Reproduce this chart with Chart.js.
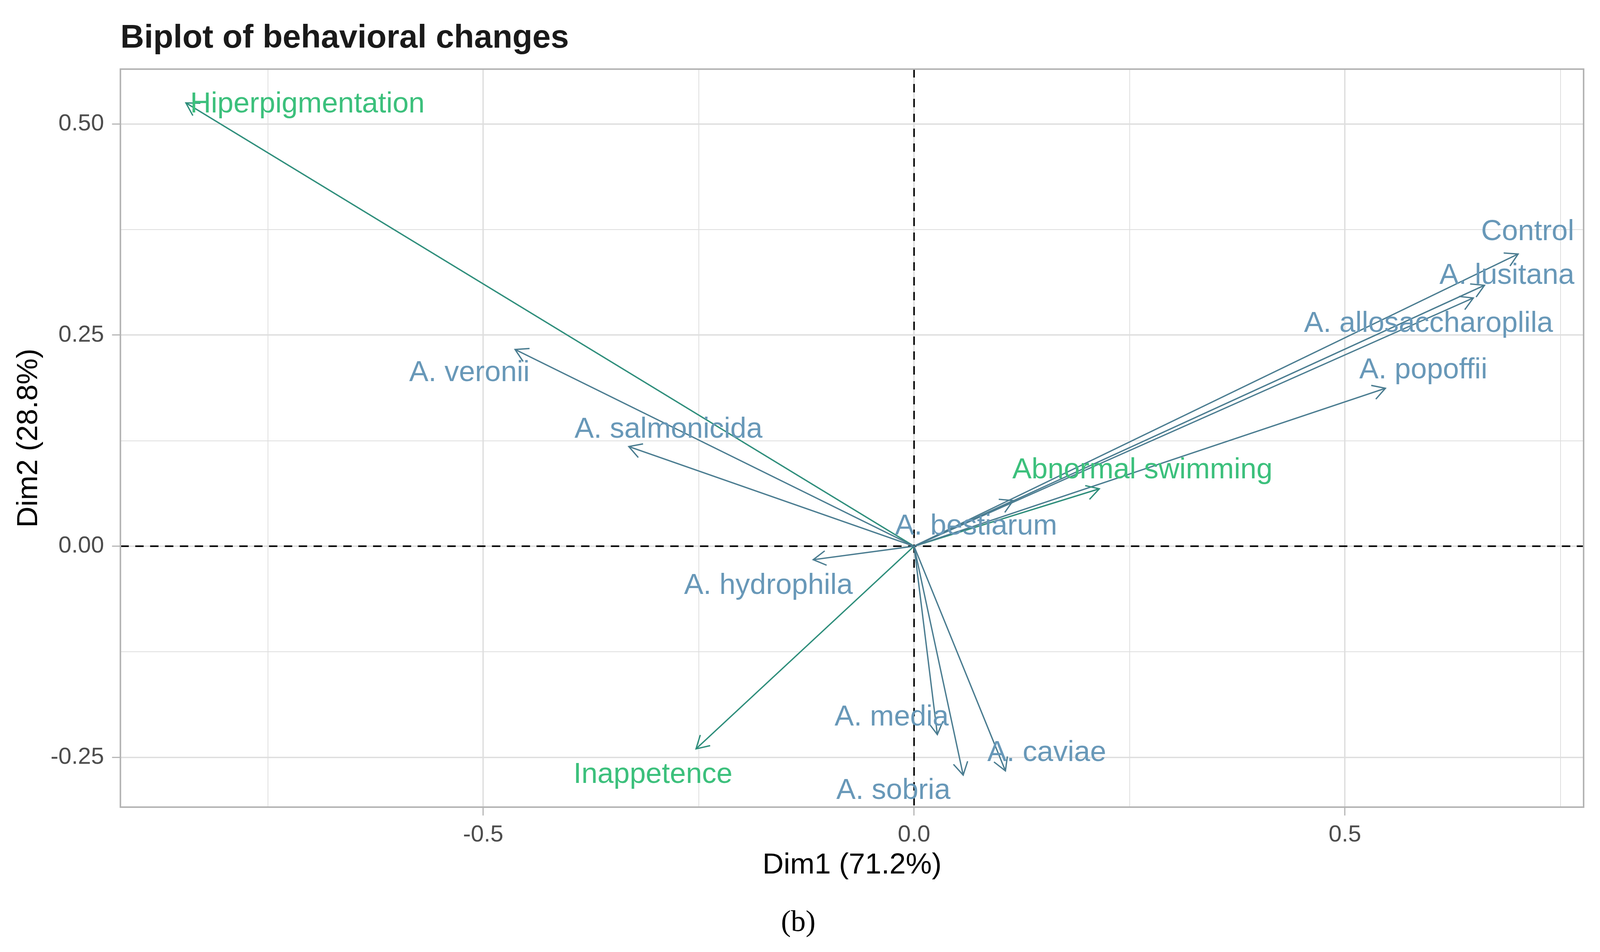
<!DOCTYPE html>
<html>
<head>
<meta charset="utf-8">
<title>Biplot of behavioral changes</title>
<script src="https://cdn.jsdelivr.net/npm/chart.js@4.4.1/dist/chart.umd.min.js"></script>
<style>
  html, body { margin: 0; padding: 0; background: #ffffff; overflow: hidden; }
  canvas { display: block; }
</style>
</head>
<body>
<canvas id="biplot"></canvas>
<script>
// individuals (arrows + labels)
const indNames = ["Control", "A. lusitana", "A. allosaccharoplila", "A. popoffii", "A. bestiarum",
  "A. veronii", "A. salmonicida", "A. hydrophila", "A. media", "A. sobria", "A. caviae"];
const indDim1 = [0.701, 0.662, 0.649, 0.547, 0.115, -0.463, -0.331, -0.117, 0.027, 0.057, 0.106];
const indDim2 = [0.346, 0.309, 0.294, 0.187, 0.054, 0.233, 0.118, -0.016, -0.223, -0.271, -0.266];
const indLabelDim1 = [0.712, 0.688, 0.597, 0.591, 0.072, -0.516, -0.285, -0.169, -0.026, -0.024, 0.154];
const indLabelDim2 = [0.372, 0.320, 0.263, 0.208, 0.023, 0.205, 0.138, -0.047, -0.203, -0.290, -0.245];

// variables
const varNames = ["Hiperpigmentation", "Abnormal swimming", "Inappetence"];
const varDim1 = [-0.845, 0.215, -0.253];
const varDim2 = [0.525, 0.068, -0.240];
const varLabelDim1 = [-0.704, 0.265, -0.303];
const varLabelDim2 = [0.523, 0.090, -0.271];

// axes
const xTicks = [-0.75, -0.5, -0.25, 0, 0.25, 0.5, 0.75];
const xTickLabels = ["", "-0.5", "", "0.0", "", "0.5", ""];
const yTicks = [-0.25, -0.125, 0, 0.125, 0.25, 0.375, 0.5];
const yTickLabels = ["-0.25", "", "0.00", "", "0.25", "", "0.50"];

const IND_LINE = "#4a7c90";
const IND_TEXT = "#6898b8";
const VAR_LINE = "#2e8e7b";
const VAR_TEXT = "#3cc07c";
const SANS = "'Liberation Sans', Arial, sans-serif";

// the layout is drawn for a 4199 x 2438 page and scaled to the real viewport
const W = window.innerWidth, H = window.innerHeight;
const kx = W / 4199, ky = H / 2438, k = Math.min(kx, ky);
function px(v) { return v * kx; }
function py(v) { return v * ky; }
function fs(v) { return Math.round(v * k) + "px "; }

var canvas = document.getElementById("biplot");
canvas.style.width = W + "px";
canvas.style.height = H + "px";

var datasets = [];
var i;
for (i = 0; i < indNames.length; i++) {
  datasets.push({
    label: indNames[i],
    data: [{ x: 0, y: 0 }, { x: indDim1[i], y: indDim2[i] }],
    labelPos: { x: indLabelDim1[i], y: indLabelDim2[i] },
    textColor: IND_TEXT,
    borderColor: IND_LINE,
    borderWidth: 3.5 * k,
    showLine: true,
    pointRadius: 0
  });
}
for (i = 0; i < varNames.length; i++) {
  datasets.push({
    label: varNames[i],
    data: [{ x: 0, y: 0 }, { x: varDim1[i], y: varDim2[i] }],
    labelPos: { x: varLabelDim1[i], y: varLabelDim2[i] },
    textColor: VAR_TEXT,
    borderColor: VAR_LINE,
    borderWidth: 3.5 * k,
    showLine: true,
    pointRadius: 0
  });
}

function isMajor(labels, index) {
  return labels[index] !== undefined && labels[index] !== "";
}

const biplotDecor = {
  id: "biplotDecor",
  beforeDatasetsDraw: function(chart) {
    var ctx = chart.ctx, a = chart.chartArea;
    var x0 = chart.scales.x.getPixelForValue(0);
    var y0 = chart.scales.y.getPixelForValue(0);
    ctx.save();
    ctx.strokeStyle = "#000000";
    ctx.lineWidth = 4 * k;
    ctx.setLineDash([22 * k, 17 * k]);
    ctx.beginPath();
    ctx.moveTo(a.left, y0); ctx.lineTo(a.right, y0);
    ctx.moveTo(x0, a.top); ctx.lineTo(x0, a.bottom);
    ctx.stroke();
    ctx.restore();
  },
  afterDatasetsDraw: function(chart) {
    var ctx = chart.ctx;
    var sx = chart.scales.x, sy = chart.scales.y;
    ctx.save();
    chart.data.datasets.forEach(function(ds, n) {
      var pts = chart.getDatasetMeta(n).data;
      var p0 = pts[0], p1 = pts[1];
      var ang = Math.atan2(p1.y - p0.y, p1.x - p0.x);
      var len = 38 * k, spread = Math.PI / 6;
      ctx.strokeStyle = ds.borderColor;
      ctx.lineWidth = 3.5 * k;
      ctx.beginPath();
      ctx.moveTo(p1.x - len * Math.cos(ang - spread), p1.y - len * Math.sin(ang - spread));
      ctx.lineTo(p1.x, p1.y);
      ctx.lineTo(p1.x - len * Math.cos(ang + spread), p1.y - len * Math.sin(ang + spread));
      ctx.stroke();
    });
    ctx.font = fs(76) + SANS;
    ctx.textAlign = "center";
    ctx.textBaseline = "middle";
    chart.data.datasets.forEach(function(ds) {
      ctx.fillStyle = ds.textColor;
      ctx.fillText(ds.label, sx.getPixelForValue(ds.labelPos.x), sy.getPixelForValue(ds.labelPos.y));
    });
    ctx.restore();
  },
  afterDraw: function(chart) {
    var ctx = chart.ctx, a = chart.chartArea;
    ctx.save();
    ctx.strokeStyle = "#b3b3b3";
    ctx.lineWidth = 4 * k;
    ctx.strokeRect(a.left, a.top, a.right - a.left, a.bottom - a.top);

    ctx.fillStyle = "#1a1a1a";
    ctx.textAlign = "left";
    ctx.textBaseline = "alphabetic";
    ctx.font = "bold " + fs(86) + SANS;
    ctx.fillText("Biplot of behavioral changes", a.left, py(122));

    ctx.fillStyle = "#000000";
    ctx.font = fs(77) + SANS;
    ctx.textAlign = "center";
    ctx.textBaseline = "middle";
    ctx.fillText("Dim1 (71.2%)", (a.left + a.right) / 2, py(2216));

    ctx.save();
    ctx.translate(px(76), (a.top + a.bottom) / 2);
    ctx.rotate(-Math.PI / 2);
    ctx.fillText("Dim2 (28.8%)", 0, 0);
    ctx.restore();

    ctx.font = fs(78) + "'Liberation Serif', 'Times New Roman', serif";
    ctx.fillText("(b)", px(2095), py(2364));
    ctx.restore();
  }
};

new Chart(canvas, {
  type: "scatter",
  data: { datasets: datasets },
  options: {
    responsive: false,
    maintainAspectRatio: false,
    animation: false,
    layout: { padding: { top: py(177), right: px(43), left: 0, bottom: 0 } },
    plugins: {
      legend: { display: false },
      tooltip: { enabled: false }
    },
    scales: {
      x: {
        type: "linear",
        min: -0.921,
        max: 0.777,
        afterBuildTicks: function(ax) { ax.ticks = xTicks.map(function(v) { return { value: v }; }); },
        afterFit: function(ax) { ax.height = py(2438 - 2067); },
        border: { display: false },
        grid: {
          color: "#dedede",
          lineWidth: function(c) { return (isMajor(xTickLabels, c.index) ? 3.5 : 2) * k; },
          tickLength: 22 * k,
          tickWidth: 3 * k,
          tickColor: function(c) { return isMajor(xTickLabels, c.index) ? "#b3b3b3" : "rgba(0,0,0,0)"; }
        },
        ticks: {
          autoSkip: false,
          maxRotation: 0,
          padding: 14 * k,
          color: "#4d4d4d",
          font: { family: SANS, size: Math.round(62 * k) },
          callback: function(v, idx) { return xTickLabels[idx]; }
        }
      },
      y: {
        type: "linear",
        min: -0.309,
        max: 0.565,
        afterBuildTicks: function(ax) { ax.ticks = yTicks.map(function(v) { return { value: v }; }); },
        afterFit: function(ax) { ax.width = px(316); },
        border: { display: false },
        grid: {
          color: "#dedede",
          lineWidth: function(c) { return (isMajor(yTickLabels, c.index) ? 3.5 : 2) * k; },
          tickLength: 22 * k,
          tickWidth: 3 * k,
          tickColor: function(c) { return isMajor(yTickLabels, c.index) ? "#b3b3b3" : "rgba(0,0,0,0)"; }
        },
        ticks: {
          autoSkip: false,
          padding: 21 * k,
          color: "#4d4d4d",
          font: { family: SANS, size: Math.round(62 * k) },
          callback: function(v, idx) { return yTickLabels[idx]; }
        }
      }
    }
  },
  plugins: [biplotDecor]
});
</script>
</body>
</html>
